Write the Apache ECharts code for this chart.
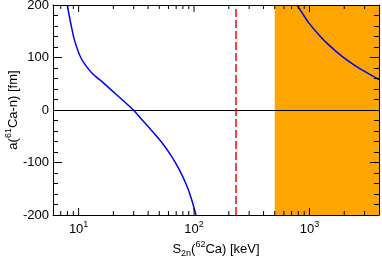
<!DOCTYPE html>
<html>
<head>
<meta charset="utf-8">
<script src="https://cdn.jsdelivr.net/npm/echarts@6/dist/echarts.min.js"></script>
<style>html,body{margin:0;padding:0;background:#fff}#c{width:382px;height:260px}</style>
</head>
<body>
<div id="c"></div>
<script>
// Left branch of a(61Ca-n) vs S2n(62Ca)
const leftS = [7.98, 8.31, 8.77, 9.18, 9.80, 10.49, 11.59, 13.21, 16.12, 19.67, 23.99, 29.8, 34.9, 42.5, 51.8, 63.3, 74.6, 85.3, 94.2, 104];
const leftA = [200, 178.6, 153, 134, 114.8, 99, 84, 69, 53, 36, 19, 0, -17, -38, -60, -87, -114, -141, -167, -200];
// Right branch
const rightS = [782, 863, 986, 1203, 1468, 1915, 2500, 3260, 3920, 4000];
const rightA = [200, 185, 166, 143.5, 124, 102, 84, 69, 59, 58];
// Reference markers
const dashedS = 230;
const bandS = [500, 4000];
const xMin = 6, xMax = 4000;
const yMin = -200, yMax = 200;
const majorX = [10, 100, 1000];
const minorX = [7, 8, 9, 20, 30, 40, 50, 60, 70, 80, 90, 200, 300, 400, 500, 600, 700, 800, 900, 2000, 3000];

const pair = (xs, ys) => xs.map((x, i) => [x, ys[i]]);
const tickItems = (y, dir) => majorX.map(v => ({value: [v, y], symbolSize: [1, 7], symbolOffset: [0, dir * 3.5]}))
  .concat(minorX.map(v => ({value: [v, y], symbolSize: [1, 4], symbolOffset: [0, dir * 2]})));

const font = 'Liberation Sans, Arial, Helvetica, sans-serif';
const supMap = {10: '1', 100: '2', 1000: '3'};
const rich = {
  a: {fontSize: 13, fontFamily: font, color: '#000', lineHeight: 18},
  sup: {fontSize: 9, fontFamily: font, color: '#000', lineHeight: 18, verticalAlign: 'top'},
  sub: {fontSize: 9, fontFamily: font, color: '#000', lineHeight: 18, verticalAlign: 'bottom'}
};

const chart = echarts.init(document.getElementById('c'), null, {renderer: 'canvas'});
const xBase = {
  type: 'log', logBase: 10, min: xMin, max: xMax, gridIndex: 0, z: 10,
  axisLine: {show: true, onZero: false, lineStyle: {color: '#000', width: 1}},
  axisTick: {show: false}, minorTick: {show: false},
  splitLine: {show: false}, minorSplitLine: {show: false}
};
const yBase = {
  type: 'value', min: yMin, max: yMax, interval: 100, z: 10,
  axisLine: {show: true, onZero: false, lineStyle: {color: '#000', width: 1}},
  axisTick: {show: true, inside: true, length: 9, lineStyle: {color: '#000', width: 1}},
  minorTick: {show: true, splitNumber: 5, length: 5, lineStyle: {color: '#000', width: 1}},
  splitLine: {show: false}
};
const tickSeries = (y, dir) => ({
  type: 'scatter', xAxisIndex: 0, yAxisIndex: 0, data: tickItems(y, dir), z: 20, silent: true,
  symbol: 'rect', clip: false, itemStyle: {color: '#000', opacity: 1}, emphasis: {disabled: true}
});
chart.setOption({
  animation: false,
  backgroundColor: '#fff',
  grid: {left: 53, right: 3, top: 5, bottom: 45, containLabel: false, outerBoundsMode: 'none'},
  xAxis: [
    Object.assign({}, xBase, {
      position: 'bottom',
      name: '{a|S}{sub|2n}{a|(}{sup|62}{a|Ca) [keV]}',
      nameLocation: 'middle', nameGap: 25, nameMoveOverlap: false,
      nameTextStyle: {rich: rich},
      axisLabel: {
        show: true, margin: 5,
        formatter: v => supMap[Math.round(v)] && Math.abs(v - Math.round(v)) < 1e-6 ? '{a|10}{sup|' + supMap[Math.round(v)] + '}' : '',
        rich: rich
      }
    }),
    Object.assign({}, xBase, {position: 'top', axisLabel: {show: false}})
  ],
  yAxis: [
    Object.assign({}, yBase, {
      position: 'left',
      name: '{a|a(}{sup|61}{a|Ca-n) [fm]}',
      nameLocation: 'middle', nameGap: 31, nameMoveOverlap: false,
      nameTextStyle: {rich: rich},
      axisLabel: {show: true, margin: 4, fontSize: 13, fontFamily: font, color: '#000'}
    }),
    Object.assign({}, yBase, {position: 'right', axisLabel: {show: false}})
  ],
  series: [
    {
      type: 'line', xAxisIndex: 0, yAxisIndex: 0, data: [], silent: true,
      markArea: {
        silent: true,
        itemStyle: {color: '#ffa500', opacity: 1},
        data: [[{xAxis: bandS[0]}, {xAxis: bandS[1]}]]
      },
      markLine: {
        silent: true, symbol: 'none', label: {show: false},
        data: [
          {yAxis: 0, lineStyle: {color: '#000', width: 1, type: 'solid'}},
          {xAxis: dashedS, lineStyle: {color: '#ff0000', width: 1.5, type: [8, 3]}}
        ]
      }
    },
    {
      type: 'line', xAxisIndex: 0, yAxisIndex: 0, data: pair(leftS, leftA),
      showSymbol: false, smooth: 0.35, clip: true,
      lineStyle: {color: '#0000ff', width: 1.5}, z: 5
    },
    {
      type: 'line', xAxisIndex: 0, yAxisIndex: 0, data: pair(rightS, rightA),
      showSymbol: false, smooth: 0.35, clip: true,
      lineStyle: {color: '#0000ff', width: 1.5}, z: 5
    },
    tickSeries(yMin, -1),
    tickSeries(yMax, 1)
  ]
});
</script>
</body>
</html>
